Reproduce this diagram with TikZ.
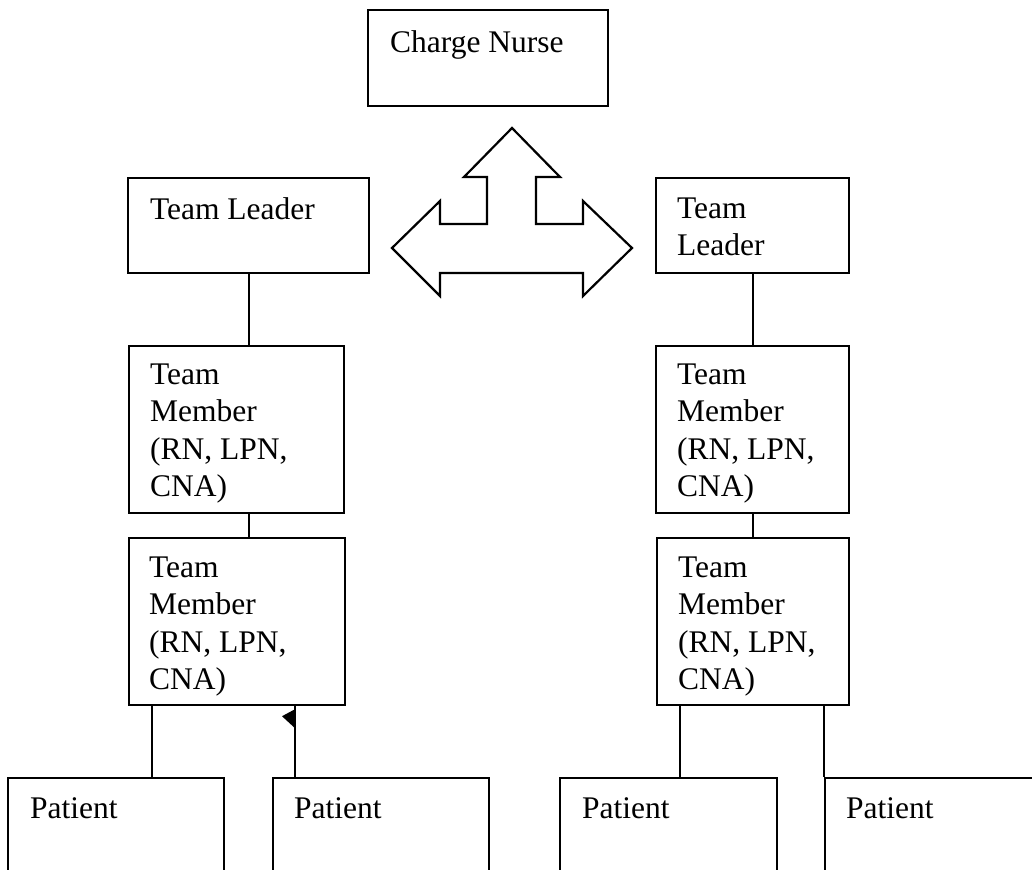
\documentclass[tikz,border=0pt]{standalone}
\usepackage{fontspec}
\setmainfont{Liberation Serif}
\usetikzlibrary{calc}
\newcommand\sk{\rule{0pt}{26pt}}
\begin{document}
\begin{tikzpicture}[x=1pt,y=-1pt, line width=2.2pt,
  box/.style={draw, rectangle, inner sep=0pt, anchor=north west},
  txt/.style={inner sep=0pt, anchor=north west, align=left, font=\fontsize{31.5}{37.5}\selectfont},
  conn/.style={draw, line width=2.2pt}]
\useasboundingbox (0,0) rectangle (1032,869);
\clip (0,0) rectangle (1032,869);
\fill[white] (0,0) rectangle (1032,869);

% boxes
\node[box, minimum width=240pt, minimum height=96pt]  (cn)   at (367,9)   {};
\node[box, minimum width=241pt, minimum height=95pt]  (tlL)  at (127,177) {};
\node[box, minimum width=193pt, minimum height=95pt]  (tlR)  at (655,177) {};
\node[box, minimum width=215pt, minimum height=167pt] (tmL1) at (128,345) {};
\node[box, minimum width=193pt, minimum height=167pt] (tmR1) at (655,345) {};
\node[box, minimum width=216pt, minimum height=167pt] (tmL2) at (128,537) {};
\node[box, minimum width=192pt, minimum height=167pt] (tmR2) at (656,537) {};
\node[box, minimum width=216pt, minimum height=120pt] (p1)   at (7,777)   {};
\node[box, minimum width=216pt, minimum height=120pt] (p2)   at (272,777) {};
\node[box, minimum width=217pt, minimum height=120pt] (p3)   at (559,777) {};
\node[box, minimum width=230pt, minimum height=120pt] (p4)   at (824,777) {};

% texts
\node[txt] (cnt)   at (389,25)  {\sk Charge Nurse};
\node[txt] (tlLt)  at (149,192) {\sk Team Leader};
\node[txt] (tlRt)  at (676,191) {\sk Team\\Leader};
\node[txt] (tmL1t) at (149,357) {\sk Team\\Member\\(RN, LPN,\\CNA)};
\node[txt] (tmR1t) at (676,357) {\sk Team\\Member\\(RN, LPN,\\CNA)};
\node[txt] (tmL2t) at (148,550) {\sk Team\\Member\\(RN, LPN,\\CNA)};
\node[txt] (tmR2t) at (677,550) {\sk Team\\Member\\(RN, LPN,\\CNA)};
\node[txt] (p1t)   at (29,791)  {\sk Patient};
\node[txt] (p2t)   at (293,791) {\sk Patient};
\node[txt] (p3t)   at (581,791) {\sk Patient};
\node[txt] (p4t)   at (845,791) {\sk Patient};

% three-way block arrow
\draw[line join=miter] (512,128) -- (560,177) -- (536,177) -- (536,224) -- (583,224)
  -- (583,201) -- (632,248) -- (583,296) -- (583,273) -- (440,273) -- (440,296)
  -- (392,248) -- (440,201) -- (440,224) -- (487,224) -- (487,177) -- (464,177) -- cycle;

% connectors
\draw[conn] (tlL.south) -- (tlL.south |- tmL1.north);
\draw[conn] (tlL.south |- tmL1.south) -- (tlL.south |- tmL2.north);
\draw[conn] (tlR.south) -- (tlR.south |- tmR1.north);
\draw[conn] (tlR.south |- tmR1.south) -- (tlR.south |- tmR2.north);
\draw[conn] ($(tmL2.south west)+(24,0)$) -- ($(p1.north west)+(145,0)$);
\draw[conn] ($(p2.north west)+(23,0)$) -- ($(tmL2.south west)+(167,0)$);
\fill ($(tmL2.south west)+(167,3)$) -- ++(-13,7) -- ++(13,12) -- cycle;
\draw[conn] ($(tmR2.south west)+(24,0)$) -- ($(p3.north west)+(121,0)$);
\draw[conn] ($(tmR2.south west)+(168,0)$) -- (p4.north west);
\end{tikzpicture}
\end{document}
